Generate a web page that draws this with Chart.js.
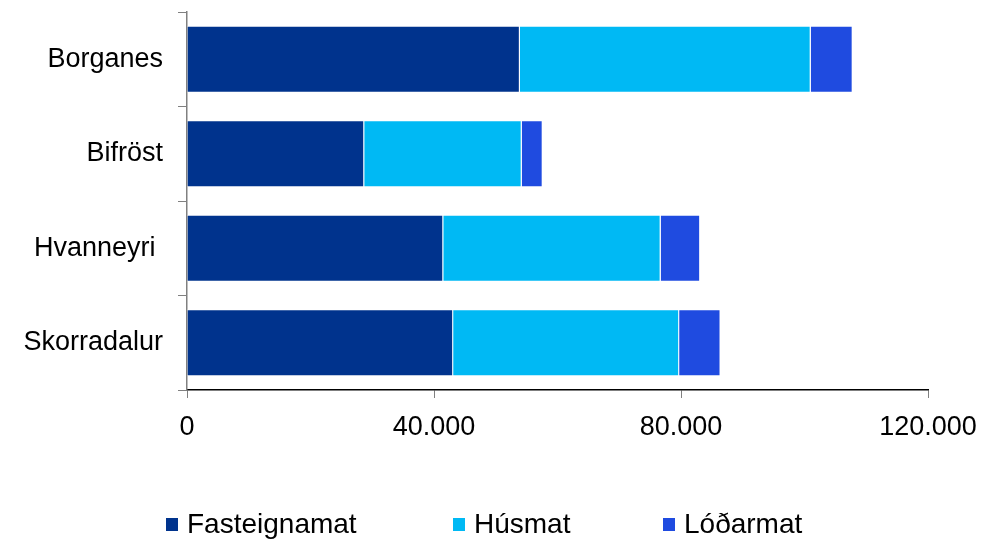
<!DOCTYPE html>
<html>
<head>
<meta charset="utf-8">
<script src="https://cdn.jsdelivr.net/npm/chart.js@4"></script>
<style>
    html, body { margin: 0; padding: 0; background: #fff; overflow: hidden; }
    #box { width: 983px; height: 539px; }
</style>
</head>
<body>
<div id="box"><canvas id="chart"></canvas></div>
<script>
const places = ['Borganes', 'Bifröst', 'Hvanneyri ', 'Skorradalur'];
const fasteignamat = [53900, 28700, 41500, 43100];
const husmat = [47100, 25500, 35200, 36600];
const lodarmat = [6800, 3400, 6400, 6700];
const xTicks = [0, 40000, 80000, 120000];

const FONT = "'Liberation Sans', Arial, sans-serif";
const legendX = [166, 453, 663];

function formatThousands(v) {
    return v.toString().replace(/\B(?=(\d{3})+(?!\d))/g, '.');
}

// legend row under the axis, placed like the original
const bottomLegend = {
    id: 'bottomLegend',
    afterDraw(chart) {
        const ctx = chart.ctx;
        ctx.save();
        ctx.font = '28px ' + FONT;
        ctx.textBaseline = 'alphabetic';
        ctx.textAlign = 'left';
        chart.data.datasets.forEach((ds, i) => {
            const x = legendX[i];
            ctx.fillStyle = ds.backgroundColor;
            ctx.fillRect(x, 518, 12, 13);
            ctx.fillStyle = '#000';
            ctx.fillText(ds.label, x + 21, 533);
        });
        ctx.restore();
    }
};

document.addEventListener('DOMContentLoaded', () => {
    const ctx = document.getElementById('chart').getContext('2d');
    const bar = (label, data, color) => ({
        label: label,
        data: data,
        backgroundColor: color,
        borderColor: '#ffffff',
        borderWidth: 1,
        barPercentage: 0.71,
        categoryPercentage: 1
    });

    new Chart(ctx, {
        type: 'bar',
        data: {
            labels: places,
            datasets: [
                bar('Fasteignamat', fasteignamat, '#00338D'),
                bar('Húsmat', husmat, '#00B9F4'),
                bar('Lóðarmat', lodarmat, '#1F4BE0')
            ]
        },
        plugins: [bottomLegend],
        options: {
            indexAxis: 'y',
            responsive: true,
            maintainAspectRatio: false,
            animation: false,
            layout: { padding: { top: 12, right: 55, left: 0, bottom: 0 } },
            plugins: {
                tooltip: { enabled: false },
                legend: { display: false }
            },
            scales: {
                x: {
                    stacked: true,
                    min: 0,
                    max: 120000,
                    afterBuildTicks: (scale) => {
                        scale.ticks = xTicks.map(v => ({ value: v }));
                    },
                    afterFit: (scale) => {
                        scale.height = 149;
                        scale.paddingLeft = 0;
                        scale.paddingRight = 0;
                    },
                    border: { color: '#000', width: 1.5 },
                    grid: {
                        drawOnChartArea: false,
                        tickLength: 8,
                        color: '#808080'
                    },
                    ticks: {
                        color: '#000',
                        padding: 13,
                        maxRotation: 0,
                        font: { family: FONT, size: 27 },
                        callback: (v) => formatThousands(v)
                    }
                },
                y: {
                    stacked: true,
                    afterFit: (scale) => {
                        scale.width = 187;
                        scale.paddingTop = 0;
                        scale.paddingBottom = 0;
                    },
                    border: { color: '#808080', width: 1.5 },
                    grid: {
                        drawOnChartArea: false,
                        tickLength: 9,
                        color: '#808080'
                    },
                    ticks: {
                        color: '#000',
                        padding: 15,
                        font: { family: FONT, size: 27 }
                    }
                }
            }
        }
    });
});
</script>
</body>
</html>
